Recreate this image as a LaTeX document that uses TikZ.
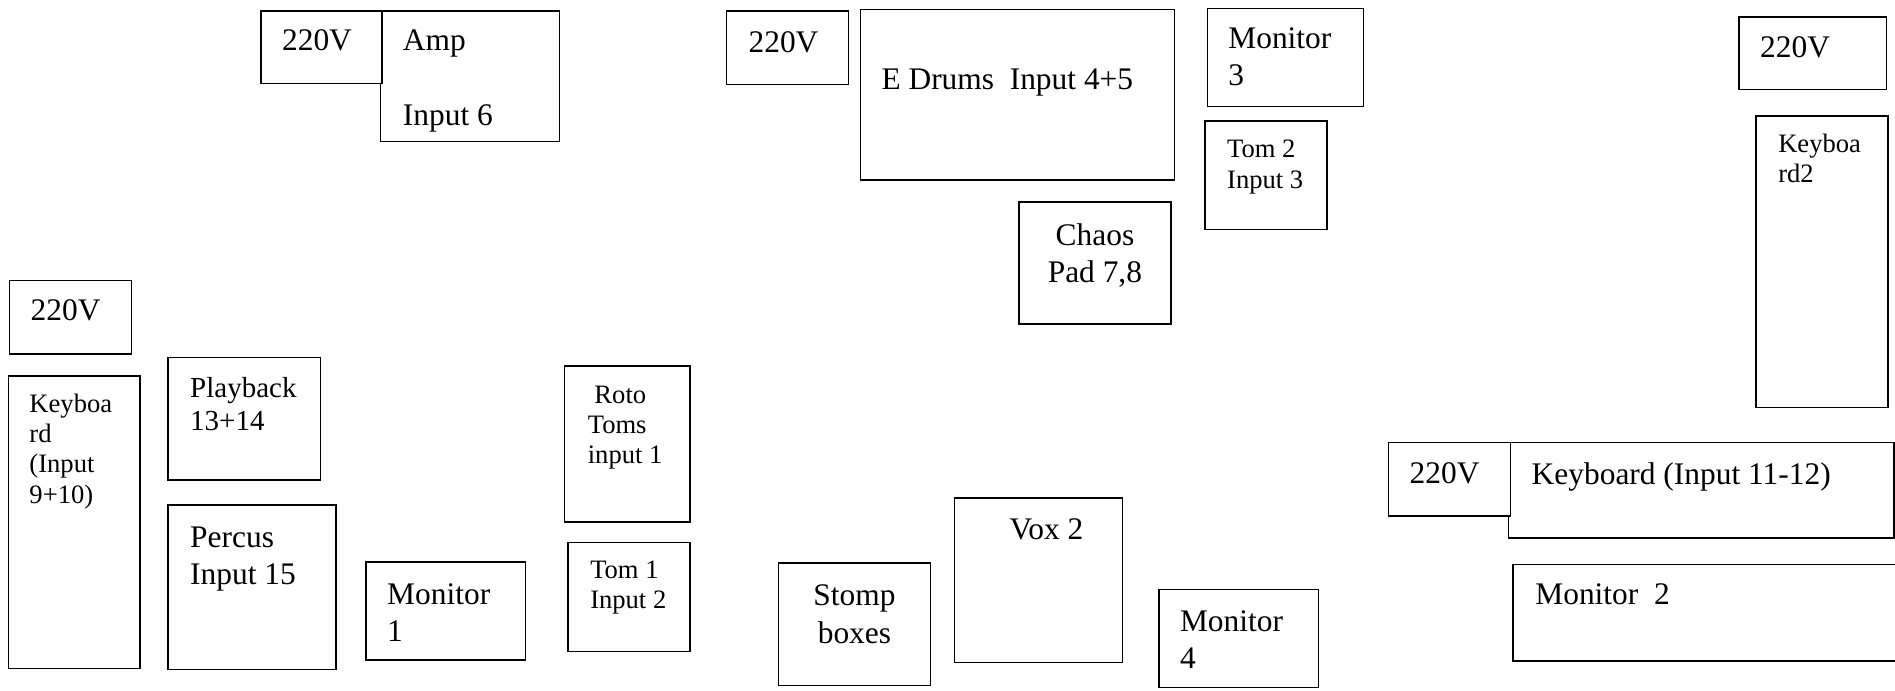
\documentclass[tikz,border=0pt]{standalone}
\usepackage{fontspec}
\setmainfont{Liberation Serif}
\usetikzlibrary{positioning,fit}
\tikzstyle{box} = [rectangle, draw=black, line width=0.6pt, inner sep=0pt, outer sep=0pt]
\tikzstyle{big} = [inner sep=0pt, align=left, font=\fontsize{13}{15.5}\selectfont]
\tikzstyle{mid} = [inner sep=0pt, align=left, font=\fontsize{12}{14}\selectfont]
\tikzstyle{small} = [inner sep=0pt, align=left, font=\fontsize{11}{12.5}\selectfont]

\begin{document}
\begin{tikzpicture}[x=0.5pt,y=-0.5pt]
			\useasboundingbox (0,0) rectangle (1568,571);

			% top row
			\node (amp) [box,fit={(315,9) (463,117)}] {};
			\node (pwra) [box,fill=white,fit={(216,9) (316,69)}] {};
			\node (pwrb) [box,fit={(601,9) (702,70)}] {};
			\node (edrums) [box,fit={(712,8) (972,149)}] {};
			\node (mon3) [box,fit={(999,7) (1128,88)}] {};
			\node (tom2) [box,fit={(997,100) (1098,190)}] {};
			\node (chaos) [box,fit={(843,167) (969,268)}] {};
			\node (pwrc) [box,fit={(1439,14) (1561,74)}] {};
			\node (keys2) [box,fit={(1453,96) (1562,337)}] {};

			% left side
			\node (pwrd) [box,fit={(8,232) (109,293)}] {};
			\node (keys) [box,fit={(7,311) (116,553)}] {};
			\node (playback) [box,fit={(139,296) (265,397)}] {};
			\node (percus) [box,fit={(139,418) (278,554)}] {};
			\node (mon1) [box,fit={(303,465) (435,546)}] {};
			\node (roto) [box,fit={(467,303) (571,432)}] {};
			\node (tom1) [box,fit={(470,449) (571,539)}] {};

			% bottom right
			\node (stomp) [box,fit={(644,466) (770,567)}] {};
			\node (vox) [box,fit={(790,412) (929,548)}] {};
			\node (mon4) [box,fit={(959,488) (1091,569)}] {};
			\node (keys3) [box,fit={(1248,366) (1567,445)}] {};
			\node (pwre) [box,fill=white,fit={(1149,366) (1250,427)}] {};
			\node (mon2) [box,fit={(1252,467) (1590,547)}] {};

			% labels
			\node (pwratxt) [big,below right=7.75pt and 8.5pt of pwra.north west] {220V};
			\node (amptxt) [big,below right=7.75pt and 9pt of amp.north west] {Amp\\[15.5pt]Input 6};
			\node (pwrbtxt) [big,below right=8.25pt and 9pt of pwrb.north west] {220V};
			\node (edrumstxt) [big,below right=24.25pt and 8.5pt of edrums.north west] {E Drums\ \ Input 4+5};
			\node (mon3txt) [big,below right=7.75pt and 8.5pt of mon3.north west] {Monitor\\3};
			\node (tom2txt) [small,below right=7.85pt and 9pt of tom2.north west] {Tom 2\\Input 3};
			\node (chaostxt) [big,align=center,below=8.75pt of chaos.north] {Chaos\\Pad 7,8};
			\node (pwrctxt) [big,below right=7.75pt and 8.5pt of pwrc.north west] {220V};
			\node (keys2txt) [small,below right=7.35pt and 9pt of keys2.north west] {Keyboa\\rd2};

			\node (pwrdtxt) [big,below right=7.75pt and 8.5pt of pwrd.north west] {220V};
			\node (keystxt) [small,below right=7.35pt and 8.5pt of keys.north west] {Keyboa\\rd\\(Input\\9+10)};
			\node (playbacktxt) [mid,below right=7.75pt and 9pt of playback.north west] {Playback\\13+14};
			\node (percustxt) [big,below right=8.75pt and 9pt of percus.north west] {Percus\\Input 15};
			\node (mon1txt) [big,below right=8.75pt and 8.5pt of mon1.north west] {Monitor\\1};
			\node (rototxt) [small,below right=7.85pt and 9.5pt of roto.north west] {\ Roto\\Toms\\input 1};
			\node (tom1txt) [small,below right=7.35pt and 9pt of tom1.north west] {Tom 1\\Input 2};

			\node (stomptxt) [big,align=center,below=8.75pt of stomp.north] {Stomp\\boxes};
			\node (voxtxt) [big,below right=8.25pt and 22.5pt of vox.north west] {Vox 2};
			\node (mon4txt) [big,below right=8.25pt and 8.5pt of mon4.north west] {Monitor\\4};
			\node (pwretxt) [big,below right=8.25pt and 8.5pt of pwre.north west] {220V};
			\node (keys3txt) [big,below right=8.25pt and 9.5pt of keys3.north west] {Keyboard (Input 11-12)};
			\node (mon2txt) [big,below right=7.75pt and 9pt of mon2.north west] {Monitor\ \ 2};

\end{tikzpicture}
\end{document}
